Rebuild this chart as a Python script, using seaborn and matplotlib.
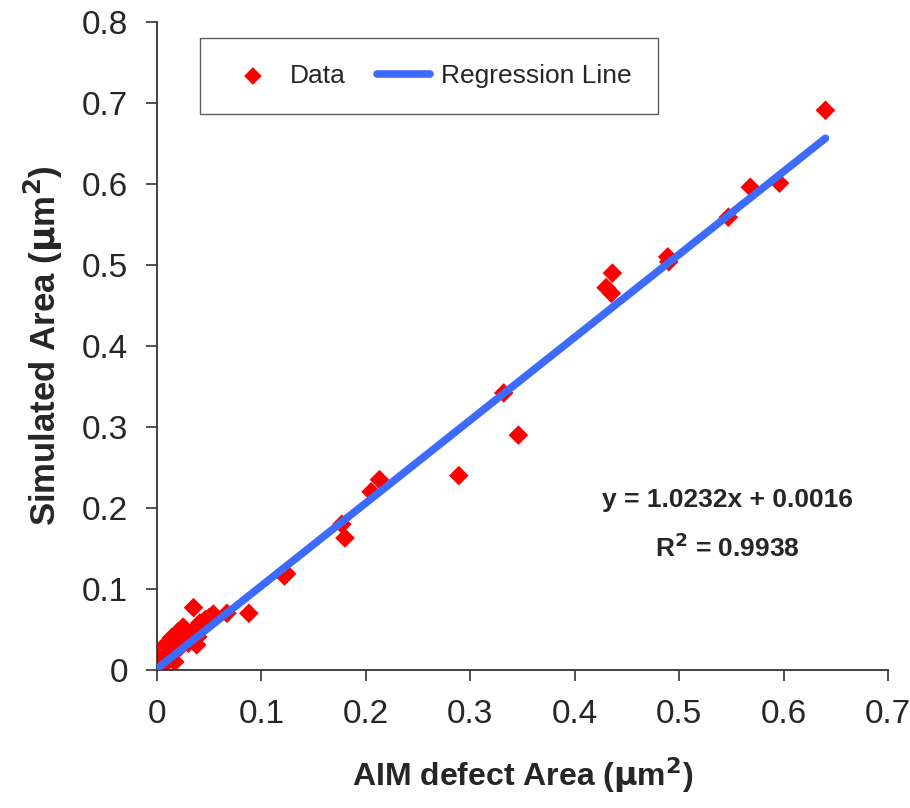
import numpy as np
import pandas as pd
import matplotlib
matplotlib.use('Agg')
import matplotlib.pyplot as plt
import seaborn as sns

# values
aim_area = [0.640, 0.596, 0.568, 0.547, 0.489, 0.490, 0.436, 0.430, 0.435,
            0.332, 0.346, 0.289, 0.213, 0.205, 0.177, 0.180, 0.124, 0.122,
            0.088, 0.067, 0.054, 0.035, 0.046, 0.041, 0.025, 0.020, 0.014,
            0.039, 0.038, 0.008, 0.017, 0.001, 0.000, 0.000, 0.005, 0.030,
            0.027, 0.033, 0.050, 0.022, 0.012, 0.003, 0.002, 0.010]
sim_area = [0.691, 0.601, 0.596, 0.559, 0.510, 0.504, 0.490, 0.472, 0.465,
            0.342, 0.290, 0.240, 0.235, 0.220, 0.180, 0.163, 0.119, 0.116,
            0.070, 0.070, 0.069, 0.077, 0.062, 0.058, 0.053, 0.047, 0.040,
            0.041, 0.031, 0.031, 0.010, 0.016, 0.010, 0.000, 0.004, 0.033,
            0.037, 0.046, 0.065, 0.028, 0.020, 0.008, 0.002, 0.015]

slope = 1.0232
intercept = 0.0016
r_squared = 0.9938

xticks = [0, 0.1, 0.2, 0.3, 0.4, 0.5, 0.6, 0.7]
yticks = [0, 0.1, 0.2, 0.3, 0.4, 0.5, 0.6, 0.7, 0.8]

df = pd.DataFrame({'aim': aim_area, 'sim': sim_area})
fit_x = np.array([min(aim_area), max(aim_area)])
fit = pd.DataFrame({'aim': fit_x, 'sim': slope * fit_x + intercept})

sns.set_style('white')
plt.rcParams['font.family'] = ['Liberation Sans', 'DejaVu Sans']

fig = plt.figure(figsize=(9.1, 8.08), dpi=100)
ax = fig.add_axes([0.1725, 0.1708, 0.8035, 0.802])

sns.scatterplot(data=df, x='aim', y='sim', marker='D', s=100, color='#FF0000',
                edgecolor='none', ax=ax, label='Data', zorder=2)
sns.lineplot(data=fit, x='aim', y='sim', color='#3D6BFF', linewidth=5.5,
             solid_capstyle='round', ax=ax, label='Regression Line', zorder=3)

ax.set_xlim(0, 0.7)
ax.set_ylim(0, 0.8)
ax.set_xticks(xticks)
ax.set_yticks(yticks)
ax.set_xticklabels([f'{t:g}' for t in xticks], fontsize=24)
ax.set_yticklabels([f'{t:g}' for t in yticks], fontsize=24)
ax.tick_params(axis='both', direction='out', length=8, width=1.2,
               color='#333333', left=True, bottom=True, pad=13)

for side in ['top', 'right']:
    ax.spines[side].set_visible(False)
for side in ['left', 'bottom']:
    ax.spines[side].set_color('#333333')
    ax.spines[side].set_linewidth(1.3)

ax.set_xlabel('AIM defect Area ($\\mathbf{\\mu}$m$^\\mathbf{2}$)', fontsize=23,
              fontweight='bold', labelpad=18)
ax.set_ylabel('Simulated Area ($\\mathbf{\\mu}$m$^\\mathbf{2}$)', fontsize=25,
              fontweight='bold', labelpad=12)

ax.text(0.546, 0.21, f'y = {slope}x + {intercept}', fontsize=19,
        fontweight='bold', ha='center', va='center', transform=ax.transData)
ax.text(0.546, 0.151, f'R$^\\mathbf{{2}}$ = {r_squared}', fontsize=19,
        fontweight='bold', ha='center', va='center', transform=ax.transData)

leg = ax.legend(loc='upper left', bbox_to_anchor=(0.059, 0.976), ncol=2,
                fontsize=19, frameon=True, fancybox=False, borderpad=1.0,
                handlelength=2.0, columnspacing=1.2, handletextpad=0.4,
                borderaxespad=0, markerscale=0.9)
leg.get_frame().set_edgecolor('#333333')
leg.get_frame().set_linewidth(1.0)

fig.savefig('out.png', dpi=100)
